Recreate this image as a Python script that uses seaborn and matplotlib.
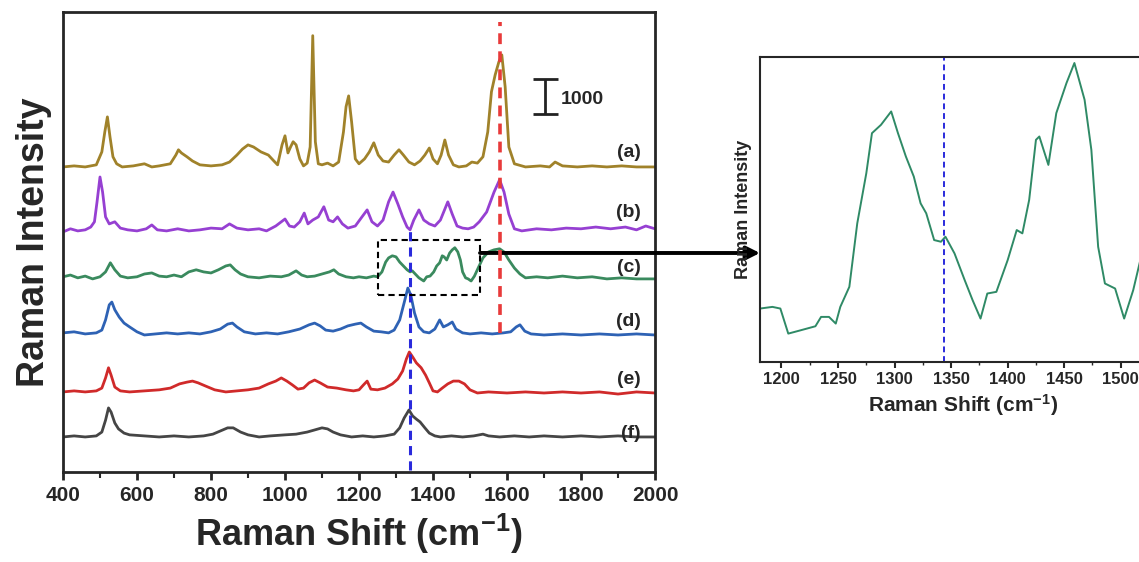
import matplotlib
matplotlib.use("Agg")
import matplotlib.pyplot as plt
import seaborn as sns
import pandas as pd
from matplotlib.patches import Rectangle

# ---------------- data (Raman shift cm-1, intensity counts) ----------------
trace_a = [(400,0),(430,30),(460,0),(490,60),(505,430),(513,1000),(520,1430),(527,860),(535,290),(545,90),
           (560,0),(590,30),(620,90),(640,0),(660,30),(690,90),(705,340),(712,490),(720,400),(735,290),
           (750,170),(770,60),(800,30),(830,60),(850,140),(870,340),(885,510),(900,630),(915,570),(935,430),
           (955,340),(970,170),(980,60),(992,630),(1000,890),(1008,400),(1015,570),(1022,720),(1030,630),
           (1040,230),(1050,30),(1060,110),(1068,570),(1075,3750),(1082,720),(1090,90),(1100,60),(1115,110),
           (1130,30),(1145,140),(1158,1000),(1165,1720),(1172,2030),(1180,1290),(1190,230),(1200,90),
           (1215,230),(1228,430),(1240,690),(1252,340),(1265,170),(1280,140),(1295,340),(1308,490),
           (1320,340),(1335,140),(1350,60),(1365,170),(1378,340),(1390,540),(1400,230),(1412,90),(1422,340),
           (1432,770),(1442,340),(1455,60),(1470,0),(1490,30),(1505,140),(1520,110),(1535,290),(1548,1000),
           (1558,2150),(1568,2630),(1578,3000),(1586,3200),(1595,2290),(1605,570),(1620,90),(1650,0),
           (1690,30),(1715,0),(1730,140),(1750,30),(1790,0),(1830,30),(1870,0),(1910,30),(1950,0),(2000,0)]

trace_b = [(400,0),(420,90),(440,30),(460,60),(475,140),(485,290),(492,860),(500,1570),(507,1140),(515,430),
           (525,230),(540,290),(555,110),(575,60),(600,30),(625,90),(640,200),(655,60),(680,30),(710,90),
           (740,30),(770,60),(800,110),(830,90),(850,230),(870,110),(900,60),(930,90),(950,30),(975,170),
           (990,290),(1000,370),(1012,170),(1025,140),(1040,290),(1052,540),(1062,230),(1075,340),(1090,430),
           (1105,720),(1118,340),(1130,290),(1142,430),(1155,230),(1170,110),(1190,170),(1208,430),(1222,630),
           (1235,290),(1250,170),(1265,340),(1280,860),(1292,1140),(1305,800),(1318,430),(1330,140),(1338,60),
           (1348,340),(1362,630),(1375,340),(1390,230),(1405,170),(1420,340),(1440,860),(1452,510),(1465,170),
           (1480,110),(1495,90),(1510,140),(1525,290),(1545,570),(1565,1140),(1580,1490),(1592,1140),
           (1605,510),(1620,90),(1640,30),(1680,90),(1720,60),(1760,110),(1800,90),(1840,140),(1880,90),
           (1920,140),(1950,60),(1975,170),(2000,90)]

trace_c = [(400,90),(420,140),(440,60),(460,110),(480,30),(500,90),(515,230),(528,490),(540,290),(555,110),
           (575,60),(600,90),(620,170),(640,200),(660,110),(680,90),(700,140),(720,90),(740,230),(760,290),
           (780,230),(800,200),(820,290),(840,400),(852,430),(865,290),(880,170),(900,90),(930,60),(960,110),
           (990,90),(1010,140),(1030,260),(1045,140),(1060,90),(1080,110),(1100,170),(1120,230),(1132,290),
           (1145,170),(1165,90),(1185,60),(1200,90),(1220,60),(1240,110),(1250,90),(1262,230),(1272,510),
           (1280,630),(1290,690),(1300,660),(1310,510),(1320,400),(1330,290),(1338,230),(1344,260),(1352,170),
           (1362,60),(1375,-30),(1383,90),(1392,110),(1402,230),(1410,400),(1418,490),(1425,690),(1430,660),
           (1437,570),(1445,770),(1452,860),(1459,920),(1467,800),(1474,570),(1480,230),(1488,60),(1495,30),
           (1503,-30),(1512,110),(1522,340),(1535,630),(1550,800),(1565,860),(1580,890),(1592,800),(1605,570),
           (1620,340),(1635,170),(1650,60),(1680,90),(1710,60),(1750,110),(1790,60),(1830,90),(1870,30),
           (1910,60),(1950,30),(2000,30)]

trace_d = [(400,60),(430,90),(460,30),(490,60),(505,140),(515,430),(525,860),(532,940),(540,720),(552,510),
           (565,340),(580,230),(600,90),(620,0),(650,30),(680,60),(710,30),(740,60),(770,30),(800,90),
           (825,170),(845,310),(858,340),(870,230),(890,90),(920,30),(950,60),(980,30),(1010,90),(1040,170),
           (1065,290),(1080,340),(1095,260),(1110,140),(1130,110),(1150,170),(1170,260),(1190,310),(1205,340),
           (1220,230),(1240,110),(1260,90),(1280,60),(1295,140),(1310,430),(1322,920),(1332,1340),(1340,1140),
           (1350,630),(1362,230),(1375,90),(1390,60),(1405,170),(1418,430),(1428,230),(1440,290),(1452,370),
           (1462,170),(1480,60),(1500,30),(1530,60),(1560,30),(1590,60),(1610,90),(1625,230),(1635,290),
           (1648,110),(1665,30),(1700,0),(1750,30),(1800,0),(1850,30),(1900,0),(1950,30),(2000,0)]

trace_e = [(400,30),(430,60),(460,30),(490,60),(505,140),(515,430),(523,720),(530,510),(540,170),(555,60),
           (580,30),(620,60),(660,90),(690,140),(715,260),(735,310),(750,340),(765,290),(785,200),(810,90),
           (840,30),(870,60),(900,90),(930,140),(955,260),(975,340),(990,430),(1005,340),(1020,230),(1035,110),
           (1050,140),(1065,290),(1080,370),(1095,290),(1115,170),(1140,140),(1165,90),(1185,60),(1200,90),
           (1212,230),(1222,340),(1232,110),(1250,90),(1270,140),(1290,260),(1305,400),(1318,630),(1328,970),
           (1336,1170),(1345,1030),(1355,860),(1368,720),(1380,510),(1390,290),(1400,60),(1412,30),(1425,140),
           (1440,260),(1455,340),(1470,340),(1485,260),(1500,90),(1520,0),(1550,30),(1600,0),(1650,30),
           (1700,0),(1750,30),(1800,0),(1850,30),(1900,-30),(1950,30),(2000,0)]

trace_f = [(400,30),(430,60),(460,30),(490,60),(505,170),(515,510),(523,860),(530,740),(540,430),(550,260),
           (565,140),(580,90),(620,60),(660,30),(700,60),(740,30),(780,60),(805,110),(825,200),(845,290),
           (860,290),(880,170),(900,90),(930,30),(960,60),(1000,90),(1030,110),(1060,170),(1080,230),
           (1100,290),(1115,260),(1130,170),(1150,90),(1180,30),(1210,60),(1240,30),(1270,60),(1295,110),
           (1310,290),(1322,570),(1335,800),(1345,630),(1355,540),(1365,460),(1378,290),(1390,140),(1405,60),
           (1420,30),(1450,60),(1480,30),(1510,60),(1535,110),(1550,60),(1580,30),(1620,60),(1660,30),
           (1700,60),(1750,30),(1800,60),(1850,30),(1900,60),(1950,30),(2000,30)]

traces = [trace_a, trace_b, trace_c, trace_d, trace_e, trace_f]
labels = ["(a)", "(b)", "(c)", "(d)", "(e)", "(f)"]
offsets = [8714, 6857, 5486, 3914, 2257, 971]
colors = ["#A0822A", "#9640D2", "#3A8A5E", "#2E62B4", "#D02A2A", "#454545"]

# zoomed spectrum (c), 1180-1535 cm-1, arbitrary units
inset_trace = [(1181,160),(1192,165),(1199,160),(1206,85),(1217,95),(1230,107),(1235,135),(1242,135),
               (1248,115),(1252,165),(1260,225),(1267,415),(1275,565),(1280,685),(1288,710),(1297,750),
               (1303,685),(1310,615),(1317,555),(1323,475),(1328,445),(1335,365),(1341,360),(1345,375),
               (1353,325),(1362,245),(1369,185),(1376,130),(1382,205),(1390,210),(1400,305),(1408,395),
               (1413,385),(1419,485),(1425,665),(1428,675),(1436,590),(1443,745),(1452,835),(1459,895),
               (1468,785),(1474,635),(1480,345),(1486,235),(1495,220),(1503,130),(1511,215),(1518,315),
               (1525,420),(1535,470)]

main_ticks = [400, 600, 800, 1000, 1200, 1400, 1600, 1800, 2000]
inset_ticks = [1200, 1250, 1300, 1350, 1400, 1450, 1500]
band_blue = 1338
band_red = 1581
inset_band = 1344
scale_value = 1000

# ---------------- style ----------------
sns.set_style("ticks")
plt.rcParams['font.family'] = ['Liberation Sans', 'DejaVu Sans']
plt.rcParams['font.weight'] = 'bold'
plt.rcParams['mathtext.fontset'] = 'custom'
plt.rcParams['mathtext.rm'] = 'Liberation Sans:bold'
plt.rcParams['mathtext.bf'] = 'Liberation Sans:bold'
plt.rcParams['mathtext.default'] = 'bf'

W, H = 1139, 562
fig = plt.figure(figsize=(W / 100, H / 100), dpi=100)

# main axes
ax = fig.add_axes([63 / W, (H - 472) / H, (655 - 63) / W, 460 / H])
for tr, off, col in zip(traces, offsets, colors):
    df = pd.DataFrame(tr, columns=["shift", "intensity"])
    df["intensity"] = df["intensity"] + off
    sns.lineplot(data=df, x="shift", y="intensity", ax=ax, color=col, lw=2.0,
                 sort=False, estimator=None)

ax.set_xlim(400, 2000)
ax.set_ylim(0, 13140)
ax.set_xticks(main_ticks)
ax.set_xticks(range(500, 2000, 200), minor=True)
ax.set_yticks([])
ax.tick_params(axis='x', which='major', direction='out', length=6, width=2, labelsize=15, pad=4)
ax.tick_params(axis='x', which='minor', direction='out', length=4, width=1.5)
for lab in ax.get_xticklabels():
    lab.set_fontweight('bold')
for s in ax.spines.values():
    s.set_linewidth(2)
    s.set_visible(True)
ax.set_xlabel(r"Raman Shift (cm$^{-1}$)", fontsize=26, fontweight='bold', labelpad=5)
ax.set_ylabel("Raman Intensity", fontsize=27, fontweight='bold', labelpad=8)

# band markers
ax.plot([band_red, band_red], [3970, 12860], ls=(0, (3, 2)), color="#E83A3A", lw=2.6, zorder=5)
ax.plot([band_blue, band_blue], [60, 6910], ls=(0, (3, 2)), color="#2A2ADC", lw=2.2, zorder=5)

# curve labels
label_y = [9114, 7400, 5829, 4286, 2629, 1114]
for lab, y in zip(labels, label_y):
    ax.text(1962, y, lab, ha='right', va='center', fontsize=14, fontweight='bold')

# scale bar
ax.errorbar([1703], [10729], yerr=[[scale_value / 2], [scale_value / 2]], color='#222222',
            capsize=9, elinewidth=2, capthick=2, fmt='none')
ax.text(1745, 10629, str(scale_value), ha='left', va='center', fontsize=14, fontweight='bold')

# dashed box around zoomed region
ax.add_patch(Rectangle((1251, 5057), 1527 - 1251, 6629 - 5057, fill=False, ls=(0, (3, 2)),
                       lw=1.5, ec='black', zorder=6))

# arrow to inset
ax.annotate("", xy=(760 / W, (H - 253) / H), xycoords='figure fraction',
            xytext=(1527, 6257), textcoords='data',
            arrowprops=dict(arrowstyle='-|>', lw=2.8, color='black', mutation_scale=20,
                            shrinkA=0, shrinkB=0))

# inset axes (extends past right edge of the figure, as in the source)
iax = fig.add_axes([760 / W, (H - 362) / H, 406 / W, 305 / H])
dfi = pd.DataFrame(inset_trace, columns=["shift", "intensity"])
sns.lineplot(data=dfi, x="shift", y="intensity", ax=iax, color="#2F8A66", lw=1.4,
             sort=False, estimator=None)
iax.set_xlim(1181, 1540)
iax.set_ylim(0, 913)
iax.set_xticks(inset_ticks)
iax.set_xticks(range(1225, 1540, 50), minor=True)
iax.set_yticks([])
iax.tick_params(axis='x', which='major', direction='out', length=4, width=1.5, labelsize=12, pad=3)
iax.tick_params(axis='x', which='minor', direction='out', length=2.5, width=1)
for lab in iax.get_xticklabels():
    lab.set_fontweight('bold')
for s in iax.spines.values():
    s.set_linewidth(1.5)
iax.axvline(inset_band, ls=(0, (3, 2)), color="#2A2ADC", lw=1.4)
iax.set_xlabel(r"Raman Shift (cm$^{-1}$)", fontsize=15, fontweight='bold', labelpad=4)
iax.set_ylabel("Raman Intensity", fontsize=13, fontweight='bold', labelpad=6)

fig.savefig("out.png", dpi=100)
